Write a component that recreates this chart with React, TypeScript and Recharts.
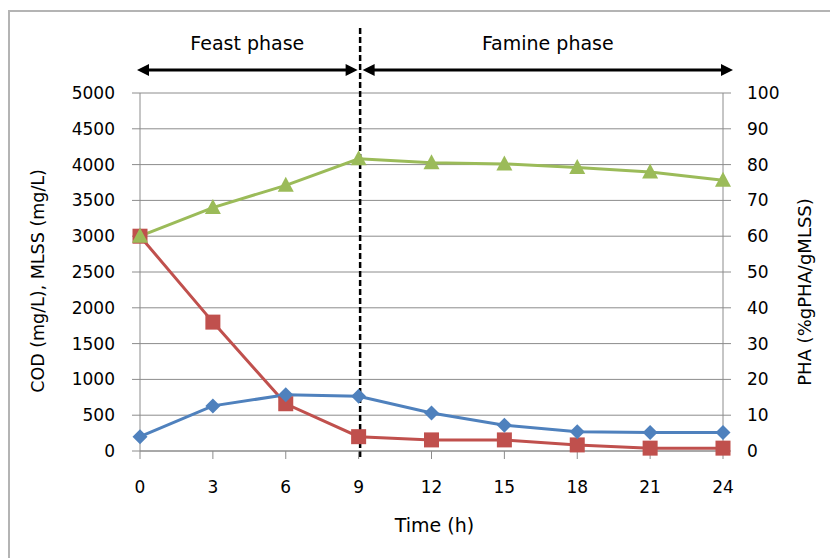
import {
  ComposedChart,
  Line,
  XAxis,
  YAxis,
  CartesianGrid,
  ReferenceLine,
  Label,
} from "recharts";

const times = [0, 3, 6, 9, 12, 15, 18, 21, 24];
const phaValues = [4, 12.6, 15.7, 15.3, 10.6, 7.2, 5.4, 5.2, 5.2];
const codValues = [3000, 1800, 660, 200, 155, 155, 85, 40, 40];
const mlssValues = [3000, 3400, 3710, 4080, 4025, 4010, 3960, 3895, 3780];
const leftTicks = [0, 500, 1000, 1500, 2000, 2500, 3000, 3500, 4000, 4500, 5000];
const rightTicks = [0, 10, 20, 30, 40, 50, 60, 70, 80, 90, 100];

const data = times.map((t, i) => ({
  t,
  pha: phaValues[i],
  cod: codValues[i],
  mlss: mlssValues[i],
}));

const FONT = "'DejaVu Sans', sans-serif";
const GRID = "#8c8c8c";
const BLUE = "#4F81BD";
const RED = "#C0504D";
const GREEN = "#9BBB59";

const diamond = (p: any) => {
  const { cx, cy, index } = p;
  const r = 7.5;
  return (
    <polygon
      key={"dm" + index}
      points={`${cx},${cy - r} ${cx + r},${cy} ${cx},${cy + r} ${cx - r},${cy}`}
      fill={BLUE}
    />
  );
};

const square = (p: any) => {
  const { cx, cy, index } = p;
  return <rect key={"sq" + index} x={cx - 7.5} y={cy - 7.5} width={15} height={15} fill={RED} />;
};

const triangle = (p: any) => {
  const { cx, cy, index } = p;
  return (
    <polygon
      key={"tr" + index}
      points={`${cx},${cy - 8.5} ${cx + 8},${cy + 6.5} ${cx - 8},${cy + 6.5}`}
      fill={GREEN}
    />
  );
};

// dashed phase divider, runs past the plot area
const divider = (p: any) => (
  <line
    x1={p.x1 + 1.5}
    x2={p.x2 + 1.5}
    y1={28}
    y2={Math.max(p.y1, p.y2) + 6}
    stroke="#000"
    strokeWidth={2.5}
    strokeDasharray="6 3"
  />
);

const phaseArrow = (text: string, padL: number, padR: number) => (p: any) => {
  const y = p.y1;
  const a = p.x1 + padL;
  const b = p.x2 + padR;
  return (
    <g>
      <line x1={a + 8} x2={b - 8} y1={y} y2={y} stroke="#000" strokeWidth={3} />
      <polygon points={`${a},${y} ${a + 12},${y - 6} ${a + 12},${y + 6}`} fill="#000" />
      <polygon points={`${b},${y} ${b - 12},${y - 6} ${b - 12},${y + 6}`} fill="#000" />
      <text
        x={(a + b) / 2}
        y={y - 20}
        textAnchor="middle"
        fontFamily={FONT}
        fontSize={19}
        fill="#000"
      >
        {text}
      </text>
    </g>
  );
};

const leftTitle = (p: any) => {
  const vb = p.viewBox;
  const x = vb.x + 44;
  const y = vb.y + vb.height / 2 + 9;
  return (
    <text
      x={x}
      y={y}
      transform={`rotate(-90 ${x} ${y})`}
      textAnchor="middle"
      fontFamily={FONT}
      fontSize={17.5}
      fill="#000"
    >
      COD (mg/L), MLSS (mg/L)
    </text>
  );
};

const rightTitle = (p: any) => {
  const vb = p.viewBox;
  const x = vb.x + 88;
  const y = vb.y + vb.height / 2 + 20;
  return (
    <text
      x={x}
      y={y}
      transform={`rotate(-90 ${x} ${y})`}
      textAnchor="middle"
      fontFamily={FONT}
      fontSize={18}
      fill="#000"
    >
      PHA (%gPHA/gMLSS)
    </text>
  );
};

const timeTitle = (p: any) => {
  const vb = p.viewBox;
  return (
    <text
      x={vb.x + vb.width / 2 + 3}
      y={vb.y + 81}
      textAnchor="middle"
      fontFamily={FONT}
      fontSize={19}
      fill="#000"
    >
      Time (h)
    </text>
  );
};

const tickStyle = { fontFamily: FONT, fontSize: 17, fill: "#000" };

export default function App() {
  return (
    <div
      style={{
        position: "absolute",
        left: 0,
        top: 0,
        width: 830,
        height: 558,
        overflow: "hidden",
        background: "#fff",
      }}
    >
      <div
        style={{
          position: "absolute",
          left: 8,
          top: 10,
          width: 900,
          height: 700,
          border: "2px solid #b4b4b4",
        }}
      />
      <ComposedChart
        width={830}
        height={558}
        data={data}
        margin={{ top: 93, right: 0, left: 0, bottom: 0 }}
        style={{ position: "absolute", left: 0, top: 0 }}
      >
        <CartesianGrid yAxisId="left" vertical={false} stroke={GRID} />
        <XAxis
          dataKey="t"
          type="number"
          domain={[0, 24]}
          ticks={times}
          height={107}
          tickSize={8}
          tickMargin={22}
          stroke={GRID}
          tick={tickStyle}
        >
          <Label content={timeTitle} />
        </XAxis>
        <YAxis
          yAxisId="left"
          domain={[0, 5000]}
          ticks={leftTicks}
          width={140}
          tickSize={8}
          tickMargin={17}
          stroke={GRID}
          tick={tickStyle}
        >
          <Label content={leftTitle} />
        </YAxis>
        <YAxis
          yAxisId="right"
          orientation="right"
          domain={[0, 100]}
          ticks={rightTicks}
          width={107}
          tickSize={8}
          tickMargin={16}
          stroke={GRID}
          tick={tickStyle}
        >
          <Label content={rightTitle} />
        </YAxis>
        <ReferenceLine
          yAxisId="left"
          ifOverflow="visible"
          segment={[
            { x: 0, y: 5320 },
            { x: 9, y: 5320 },
          ]}
          shape={phaseArrow("Feast phase", -3, -1)}
        />
        <ReferenceLine
          yAxisId="left"
          ifOverflow="visible"
          segment={[
            { x: 9, y: 5320 },
            { x: 24, y: 5320 },
          ]}
          shape={phaseArrow("Famine phase", 4, 10)}
        />
        <Line
          yAxisId="left"
          dataKey="cod"
          stroke={RED}
          strokeWidth={3}
          dot={square}
          isAnimationActive={false}
        />
        <Line
          yAxisId="right"
          dataKey="pha"
          stroke={BLUE}
          strokeWidth={3}
          dot={diamond}
          isAnimationActive={false}
        />
        <Line
          yAxisId="left"
          dataKey="mlss"
          stroke={GREEN}
          strokeWidth={3}
          dot={triangle}
          isAnimationActive={false}
        />
        <ReferenceLine yAxisId="left" x={9} ifOverflow="visible" shape={divider} />
      </ComposedChart>
    </div>
  );
}
